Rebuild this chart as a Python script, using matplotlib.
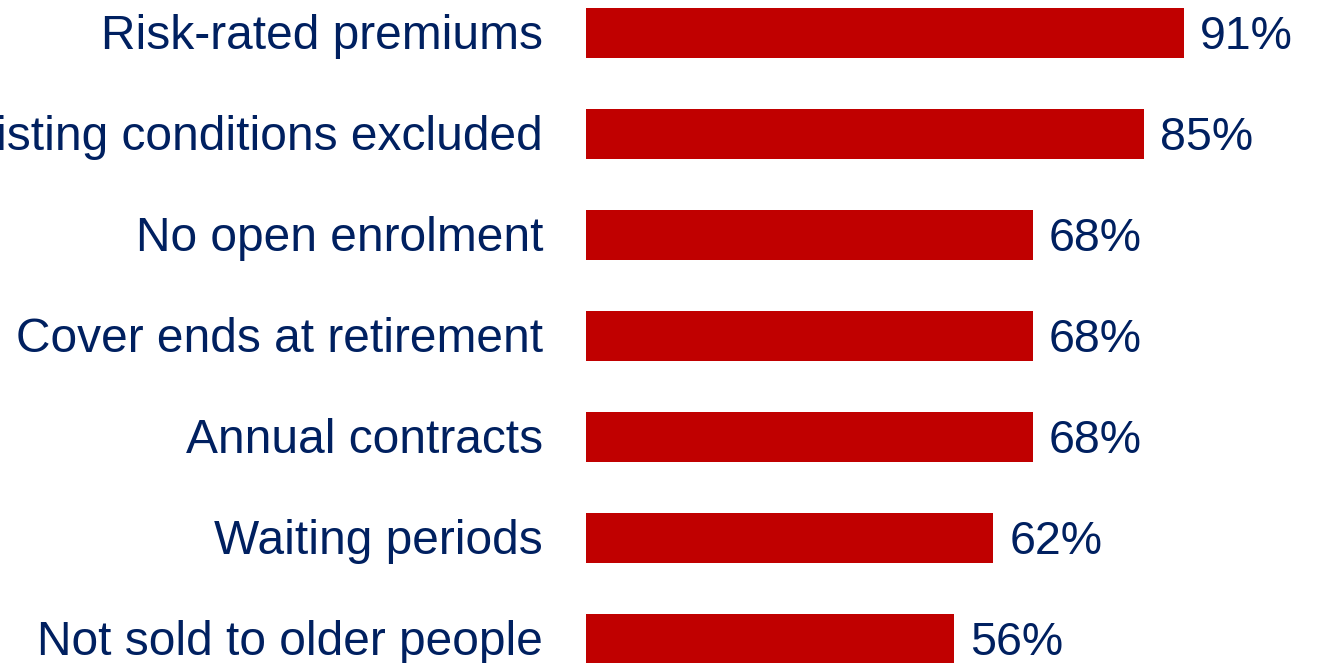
import matplotlib.pyplot as plt

plt.rcParams['font.family'] = ['Liberation Sans', 'DejaVu Sans']

features = [
    'Risk-rated premiums',
    'Pre-existing conditions excluded',
    'No open enrolment',
    'Cover ends at retirement',
    'Annual contracts',
    'Waiting periods',
    'Not sold to older people',
]
shares = [91, 85, 68, 68, 68, 62, 56]

bar_color = '#C00000'
text_color = '#002060'

W, H = 1319, 663
fig = plt.figure(figsize=(W / 100, H / 100), dpi=100)
# axes starts where the bars start and fills the rest of the figure
ax = fig.add_axes([586 / W, 0, 1 - 586 / W, 1])

px_per_pct = 6.57
pitch = 101.0
ax.set_xlim(0, (W - 586) / px_per_pct)
ax.set_ylim((H - 33) / pitch, -33 / pitch)

ypos = list(range(len(features)))
ax.barh(ypos, shares, height=50 / pitch, color=bar_color)

# text baselines sit a little below the bar centre
base = 16 / pitch
for y, name, v in zip(ypos, features, shares):
    ax.text(-43 / px_per_pct, y + base, name, va='baseline', ha='right',
            fontsize=34.5, color=text_color)
    ax.text(v + 16 / px_per_pct, y + base, f'{v}%', va='baseline', ha='left',
            fontsize=33.5, color=text_color)

ax.set_xticks([])
ax.set_yticks([])
for s in ax.spines.values():
    s.set_visible(False)

fig.savefig('out.png', dpi=100)
